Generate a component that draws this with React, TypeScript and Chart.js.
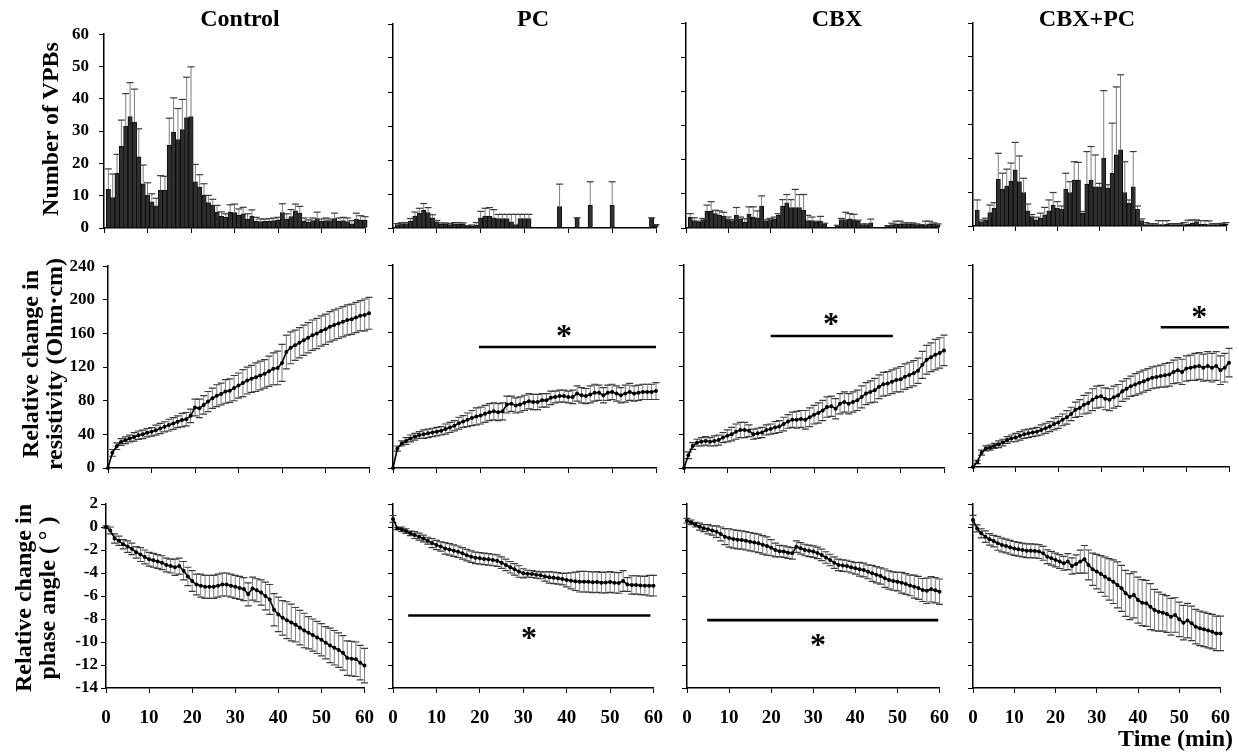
import React, { useEffect, useRef } from 'react';
import { Chart, registerables } from 'chart.js';
Chart.register(...registerables);

const FONT = '"Liberation Serif", "Times New Roman", Times, serif';

// ---------- categories ----------
const MINUTES = [0,1,2,3,4,5,6,7,8,9,10,11,12,13,14,15,16,17,18,19,20,21,22,23,24,25,26,27,28,29,30,31,32,33,34,35,36,37,38,39,40,41,42,43,44,45,46,47,48,49,50,51,52,53,54,55,56,57,58,59,60];
const BAR_MINUTES = [1,2,3,4,5,6,7,8,9,10,11,12,13,14,15,16,17,18,19,20,21,22,23,24,25,26,27,28,29,30,31,32,33,34,35,36,37,38,39,40,41,42,43,44,45,46,47,48,49,50,51,52,53,54,55,56,57,58,59,60];
const COLUMN_TITLES = ['Control', 'PC', 'CBX', 'CBX+PC'];

// ---------- Number of VPBs (mean, upper error) ----------
const CONTROL_VPB = [12,9.4,16.9,25.3,31.5,34.5,32.7,22,13.7,10.1,8.1,6.9,11.7,11.7,25.6,29.7,27.4,30.5,34.2,34.5,14.3,12.7,10.2,7.9,7.1,4.9,3.6,3.3,4.9,4.8,4.0,4.4,2.8,3.7,2.1,2.0,2.1,2.1,2.3,2.5,4.8,2.8,3.5,5.3,4.6,2.1,1.8,2.3,2.9,2.1,2.3,2.3,2.9,2.1,2.3,2.0,1.3,2.7,2.5,2.4];
const CONTROL_VPB_ERR = [6.3,7.3,5.9,8.1,10.1,10.5,10.3,8.7,5.8,3.9,2.5,2.3,4.5,4.3,8.4,10.6,9.6,9.3,12.5,15.4,5.4,3.8,3.5,2.2,1.8,2.1,1.4,1.1,2.3,2.6,1.9,2.0,1.6,1.9,1.2,0.8,0.7,0.8,0.8,0.8,2.7,1.6,2.2,2.1,2.1,1.0,0.7,0.8,2.0,0.7,0.8,0.5,1.7,1.0,1.0,1.1,1.0,1.9,1.3,1.1];
const PC_VPB = [1.0,1.3,1.3,2.0,3.5,4.3,5.2,4.5,3.0,1.8,1.2,1.2,1.0,1.2,1.2,1.2,0.5,0.6,0.8,3.0,3.5,3.4,3.0,2.8,2.8,2.8,1.8,1.0,2.8,2.8,2.8,0,0,0,0,0,0,6.3,0,0,0,3.0,0,0,6.7,0,0,0,0,6.7,0,0,0,0,0,0,0,0,3.0,1.0];
const PC_VPB_ERR = [0.3,0.3,0.3,0.8,1.2,1.5,2.0,1.5,0.9,0.4,0.3,0.3,0.3,0.4,0.4,0.3,0.2,0.3,0.8,1.9,2.3,2.6,2.4,1.2,1.2,1.2,2.2,3.0,1.2,1.2,1.2,0,0,0,0,0,0,6.6,0,0,0,0,0,0,6.9,0,0,0,0,6.9,0,0,0,0,0,0,0,0,0,0];
const CBX_VPB = [3.2,2.2,1.7,2.5,4.9,4.9,4.2,3.7,3.4,2.7,2.2,3.7,2.7,1.7,4.0,3.2,3.0,6.4,2.1,2.5,2.7,3.7,6.4,7.4,6.0,6.0,6.0,5.2,2.2,2.2,1.7,2.0,1.2,0,0,0.5,2.5,2.5,2.7,2.5,2.0,1.0,1.0,1.5,0,0,0,0.5,1.0,1.2,1.2,1.2,1.2,1.2,1.0,0.8,1.0,1.2,1.2,1.0];
const CBX_VPB_ERR = [1.0,0.8,0.3,0.3,1.8,2.8,1.0,1.3,1.2,0.5,0.3,2.3,0.5,1.0,2.2,3.0,2.0,3.0,0.3,0.3,0.5,0.5,1.9,2.4,2.3,5.3,3.8,4.6,1.5,1.0,0.3,1.4,0.2,0,0,0.3,0.3,2.1,1.5,1.5,0.3,0.2,0.2,1.1,0,0,0,0.2,0.4,0.8,0.8,0.3,0.3,0.3,0.2,0.2,1.0,0.8,0.3,0.2];
const CBXPC_VPB = [4.7,1.3,1.8,4.0,5.2,13.8,10.9,11.8,13.3,16.6,13.1,9.9,4.5,2.8,1.8,2.3,3.3,4.5,6.2,5.2,4.9,10.9,9.9,13.6,13.6,3.8,12.4,13.6,11.6,11.6,20.0,11.2,15.6,21.0,22.5,9.9,6.7,11.6,4.9,1.6,0.4,0.4,0.4,0.4,0.4,0.5,0.4,0.4,0.4,0.4,0.5,0.8,1.3,0.6,0.5,0.4,0.4,0.4,0.5,0.6];
const CBXPC_VPB_ERR = [3.0,0.5,0.5,2.2,1.7,7.7,4.7,5.0,5.3,8.1,7.6,4.2,2.0,0.6,0.8,1.5,2.2,3.2,3.7,2.0,1.0,4.7,3.2,5.4,5.2,0.5,9.6,9.9,9.4,1.0,20.0,1.0,14.8,20.1,22.2,9.1,1.0,10.4,1.0,0.5,0.6,0.3,0.3,1.2,1.2,1.1,0.3,0.3,0.3,0.6,1.2,1.0,0.5,1.0,1.1,1.1,0.3,0.3,0.3,0.4];

// ---------- Relative change in resistivity (mean, SE) ----------
const CONTROL_RES = [0,18,26,31,33,35,37,39,40,42,43,45,47,49,51,53,55,57,58,62,72,71,75,79,83,86,88,91,92,95,98,101,104,106,108,110,112,115,118,119,125,138,143,146,149,152,155,158,160,163,165,168,170,172,174,176,177,179,181,182,184];
const CONTROL_RES_ERR = [0,4,4,4,4,4,5,5,5,5,5,6,6,6,7,7,7,8,8,8,10,11,11,12,12,13,13,14,14,15,15,16,16,16,17,17,17,18,19,20,22,20,19,18,18,18,18,18,18,18,18,18,18,18,18,18,18,18,18,19,19];
const PC_RES = [0,23,29,32,35,37,39,40,41,42,43,44,46,48,50,53,55,57,59,61,62,64,66,67,66,67,75,76,74,75,77,79,78,78,80,80,83,84,85,85,84,84,88,86,85,87,89,89,86,89,90,88,86,88,90,88,89,90,90,90,91];
const PC_RES_ERR = [0,3,3,4,4,4,4,5,5,5,5,5,6,6,6,7,7,8,9,10,10,10,10,10,10,10,10,9,9,9,9,9,9,9,8,8,8,7,7,7,7,8,9,9,9,10,10,9,9,9,9,9,9,10,10,9,9,9,9,9,10];
const CBX_RES = [0,15,26,30,31,32,31,32,33,36,38,40,43,45,45,44,40,41,42,45,46,48,49,52,55,57,57,58,57,60,63,65,68,72,73,70,76,78,76,78,80,84,88,90,92,96,99,100,102,104,105,108,110,112,115,122,128,131,134,136,139];
const CBX_RES_ERR = [0,4,4,4,5,5,5,6,6,6,7,8,9,9,9,7,6,6,6,6,6,7,7,8,8,9,10,10,11,11,11,12,12,12,12,12,12,12,12,12,12,13,13,13,14,14,14,14,14,14,15,15,15,15,15,16,17,17,18,18,18];
const CBXPC_RES = [0,6,17,22,23,25,27,29,32,34,35,37,39,40,41,42,44,46,48,51,53,56,59,63,68,70,74,76,80,83,84,81,80,83,85,90,93,96,98,100,102,104,106,107,108,109,110,113,115,113,117,118,119,120,118,120,118,120,115,118,124];
const CBXPC_RES_ERR = [0,2,3,3,3,3,4,4,4,4,5,5,5,5,5,5,6,6,6,7,7,7,8,8,9,10,11,12,13,13,13,13,13,13,13,12,12,12,13,13,13,13,13,13,13,14,14,14,15,15,15,15,16,16,16,17,17,17,17,17,17];

// ---------- Relative change in phase angle (mean, SE) ----------
const CONTROL_PHASE = [0,-0.3,-1.0,-1.2,-1.5,-1.7,-1.9,-2.2,-2.4,-2.6,-2.8,-2.9,-3.0,-3.1,-3.3,-3.4,-3.5,-3.4,-3.8,-4.3,-4.7,-5.0,-5.1,-5.2,-5.2,-5.2,-5.1,-5.0,-5.0,-5.1,-5.2,-5.3,-5.4,-5.85,-5.35,-5.5,-5.7,-6.0,-6.3,-7.2,-7.6,-7.9,-8.1,-8.3,-8.5,-8.75,-9.0,-9.2,-9.4,-9.6,-9.8,-10.06,-10.3,-10.5,-10.7,-10.94,-11.4,-11.45,-11.5,-11.8,-12.05];
const CONTROL_PHASE_ERR = [0.1,0.3,0.4,0.4,0.4,0.5,0.5,0.5,0.6,0.6,0.6,0.6,0.6,0.6,0.6,0.6,0.7,0.7,0.8,0.8,0.9,0.9,1.0,1.0,1.0,1.0,1.0,1.0,1.0,1.0,1.0,1.0,1.0,1.0,1.0,1.0,1.1,1.2,1.3,1.4,1.5,1.5,1.6,1.6,1.5,1.5,1.5,1.4,1.4,1.4,1.4,1.4,1.5,1.5,1.5,1.5,1.5,1.5,1.5,1.5,1.5];
const PC_PHASE = [0.7,-0.12,-0.2,-0.35,-0.55,-0.7,-0.84,-1.0,-1.19,-1.4,-1.57,-1.7,-1.86,-1.95,-2.06,-2.15,-2.29,-2.45,-2.58,-2.68,-2.72,-2.78,-2.81,-2.87,-2.93,-3.1,-3.3,-3.5,-3.68,-3.87,-4.03,-4.06,-4.09,-4.15,-4.2,-4.3,-4.38,-4.42,-4.46,-4.53,-4.61,-4.68,-4.72,-4.75,-4.75,-4.77,-4.8,-4.78,-4.84,-4.82,-4.78,-4.84,-4.86,-4.7,-5.0,-5.04,-5.04,-5.08,-5.1,-5.1,-5.1];
const PC_PHASE_ERR = [0.3,0.1,0.2,0.2,0.2,0.3,0.3,0.3,0.3,0.4,0.4,0.4,0.5,0.5,0.5,0.5,0.5,0.5,0.5,0.5,0.5,0.5,0.5,0.5,0.5,0.5,0.5,0.5,0.5,0.5,0.4,0.3,0.3,0.3,0.3,0.4,0.5,0.5,0.5,0.5,0.6,0.7,0.8,0.9,0.9,0.9,0.9,0.9,0.9,0.9,0.9,0.9,0.9,0.9,0.6,0.8,0.8,0.8,0.8,0.9,0.9];
const CBX_PHASE = [0.55,0.41,0.2,0.03,-0.1,-0.2,-0.3,-0.41,-0.6,-0.84,-0.95,-1.04,-1.1,-1.13,-1.2,-1.28,-1.35,-1.42,-1.55,-1.65,-1.8,-2.0,-2.1,-2.14,-2.23,-2.29,-1.71,-1.85,-2.0,-2.07,-2.14,-2.25,-2.43,-2.65,-2.87,-3.1,-3.3,-3.35,-3.39,-3.5,-3.59,-3.68,-3.74,-3.9,-4.03,-4.15,-4.26,-4.45,-4.61,-4.7,-4.75,-4.85,-4.96,-5.08,-5.19,-5.3,-5.48,-5.55,-5.42,-5.5,-5.62];
const CBX_PHASE_ERR = [0.2,0.2,0.2,0.3,0.3,0.4,0.4,0.5,0.6,0.7,0.8,0.8,0.8,0.8,0.8,0.8,0.8,0.8,0.8,0.8,0.7,0.6,0.5,0.5,0.5,0.5,0.5,0.5,0.5,0.5,0.5,0.5,0.5,0.5,0.5,0.5,0.5,0.5,0.5,0.5,0.5,0.6,0.6,0.6,0.7,0.7,0.7,0.8,0.8,0.8,0.8,0.9,0.9,0.9,1.0,1.0,1.0,1.1,1.1,1.1,1.1];
const CBXPC_PHASE = [0.61,-0.12,-0.55,-0.84,-1.07,-1.22,-1.42,-1.57,-1.65,-1.77,-1.86,-1.94,-2.0,-2.06,-2.06,-2.09,-2.14,-2.29,-2.58,-2.72,-2.87,-3.01,-3.16,-3.01,-3.39,-3.22,-3.01,-2.81,-3.3,-3.68,-3.88,-4.09,-4.32,-4.55,-4.75,-5.04,-5.33,-5.77,-6.06,-5.91,-6.35,-6.58,-6.64,-6.93,-7.22,-7.36,-7.45,-7.57,-7.8,-7.65,-8.03,-8.32,-8.14,-8.38,-8.67,-8.81,-8.9,-9.01,-9.1,-9.25,-9.25];
const CBXPC_PHASE_ERR = [0.4,0.3,0.4,0.5,0.5,0.5,0.6,0.6,0.6,0.6,0.6,0.6,0.6,0.6,0.6,0.6,0.6,0.6,0.6,0.6,0.6,0.6,0.6,0.7,0.7,0.8,1.0,1.2,1.3,1.4,1.5,1.6,1.7,1.8,1.9,2.0,2.0,2.0,2.0,2.0,2.0,2.0,2.0,2.0,1.8,1.7,1.6,1.6,1.6,1.5,1.5,1.5,1.5,1.5,1.5,1.5,1.5,1.5,1.5,1.5,1.5];

// ---------- significance markers: [fromMin, toMin, lineValue, starMin, starValue] ----------
const PC_RES_SIG = [19.6, 60, 143, 39, 162];
const CBX_RES_SIG = [20, 48.2, 156, 33.9, 176];
const CBXPC_RES_SIG = [44, 60, 166, 53, 184];
const PC_PHASE_SIG = [3.5, 59.3, -7.7, 31.3, -9.25];
const CBX_PHASE_SIG = [4.8, 59.7, -8.1, 31.1, -9.8];

// ---------- axis ranges per row: [min, max, step] ----------
const VPB_RANGE = [0, 60, 10];
const RES_RANGE = [0, 240, 40];
const PHASE_RANGE = [-14, 2, 2];

// ---------- layout (plot-area rectangles: left, right, top, bottom) ----------
const RECTS = [
  [[104, 365, 30, 228], [393, 656, 24, 228], [686, 938, 23, 228], [973, 1226, 23, 226]],
  [[108, 369, 264, 468], [393, 656, 265, 468], [684, 944, 265, 468], [973, 1229, 265, 467]],
  [[106, 370, 504, 688], [393, 659, 504, 688], [687, 945, 504, 688], [973, 1226, 504, 688]],
];
const PL = 60, PT = 16, PR = 18, PB = 44;

type Panel = {
  row: number; col: number; kind: 'bar' | 'line';
  values: number[]; errs: number[]; range: number[]; sig?: number[];
};

const PANELS: Panel[] = [
  { row: 0, col: 0, kind: 'bar', values: CONTROL_VPB, errs: CONTROL_VPB_ERR, range: VPB_RANGE },
  { row: 0, col: 1, kind: 'bar', values: PC_VPB, errs: PC_VPB_ERR, range: VPB_RANGE },
  { row: 0, col: 2, kind: 'bar', values: CBX_VPB, errs: CBX_VPB_ERR, range: VPB_RANGE },
  { row: 0, col: 3, kind: 'bar', values: CBXPC_VPB, errs: CBXPC_VPB_ERR, range: VPB_RANGE },
  { row: 1, col: 0, kind: 'line', values: CONTROL_RES, errs: CONTROL_RES_ERR, range: RES_RANGE },
  { row: 1, col: 1, kind: 'line', values: PC_RES, errs: PC_RES_ERR, range: RES_RANGE, sig: PC_RES_SIG },
  { row: 1, col: 2, kind: 'line', values: CBX_RES, errs: CBX_RES_ERR, range: RES_RANGE, sig: CBX_RES_SIG },
  { row: 1, col: 3, kind: 'line', values: CBXPC_RES, errs: CBXPC_RES_ERR, range: RES_RANGE, sig: CBXPC_RES_SIG },
  { row: 2, col: 0, kind: 'line', values: CONTROL_PHASE, errs: CONTROL_PHASE_ERR, range: PHASE_RANGE },
  { row: 2, col: 1, kind: 'line', values: PC_PHASE, errs: PC_PHASE_ERR, range: PHASE_RANGE, sig: PC_PHASE_SIG },
  { row: 2, col: 2, kind: 'line', values: CBX_PHASE, errs: CBX_PHASE_ERR, range: PHASE_RANGE, sig: CBX_PHASE_SIG },
  { row: 2, col: 3, kind: 'line', values: CBXPC_PHASE, errs: CBXPC_PHASE_ERR, range: PHASE_RANGE },
];

const Y_TICK_FONT = [17, 17, 17];
const Y_TICK_PAD = [10, 8, 3];

function overlayPlugin(p: Panel) {
  const drawErrors = (chart: any) => {
    const ctx = chart.ctx;
    const meta = chart.getDatasetMeta(0);
    const ys = chart.scales.y;
    const cap = 3.5;
    ctx.save();
    meta.data.forEach((el: any, i: number) => {
      const v = p.values[i];
      const e = p.errs[i];
      if (p.kind === 'bar' && !(v > 0)) return;
      if (p.kind === 'line' && !(e > 0)) return;
      const x = el.x;
      const top = ys.getPixelForValue(v + e);
      const bot = p.kind === 'bar' ? el.y : ys.getPixelForValue(v - e);
      ctx.strokeStyle = '#7d7d7d';
      ctx.lineWidth = 1;
      ctx.beginPath();
      ctx.moveTo(x, top);
      ctx.lineTo(x, bot);
      ctx.stroke();
      ctx.strokeStyle = '#3a3a3a';
      ctx.lineWidth = 1.2;
      ctx.beginPath();
      ctx.moveTo(x - cap, top);
      ctx.lineTo(x + cap, top);
      if (p.kind === 'line') {
        ctx.moveTo(x - cap, bot);
        ctx.lineTo(x + cap, bot);
      }
      ctx.stroke();
    });
    ctx.restore();
  };
  const drawSig = (chart: any) => {
    if (!p.sig) return;
    const ctx = chart.ctx;
    const xs = chart.scales.x;
    const ys = chart.scales.y;
    const [x0, x1, yv, sx, sy] = p.sig;
    ctx.save();
    ctx.strokeStyle = '#000';
    ctx.lineWidth = 2.6;
    ctx.beginPath();
    ctx.moveTo(xs.getPixelForValue(x0), ys.getPixelForValue(yv));
    ctx.lineTo(xs.getPixelForValue(x1), ys.getPixelForValue(yv));
    ctx.stroke();
    ctx.font = `bold 32px ${FONT}`;
    ctx.fillStyle = '#000';
    ctx.textAlign = 'center';
    ctx.textBaseline = 'alphabetic';
    const m = ctx.measureText('*');
    const cy = ys.getPixelForValue(sy);
    const base = cy + (m.actualBoundingBoxAscent - m.actualBoundingBoxDescent) / 2;
    ctx.fillText('*', xs.getPixelForValue(sx), base);
    ctx.restore();
  };
  return {
    id: 'overlay' + p.row + p.col,
    beforeDatasetsDraw(chart: any) {
      if (p.kind === 'line') drawErrors(chart);
    },
    afterDatasetsDraw(chart: any) {
      if (p.kind === 'bar') drawErrors(chart);
      drawSig(chart);
    },
  };
}

function buildChart(canvas: HTMLCanvasElement, p: Panel) {
  const isBar = p.kind === 'bar';
  const xsrc = isBar ? BAR_MINUTES : MINUTES;
  const data = xsrc.map((m, i) => ({ x: m, y: p.values[i] }));
  const axisCommon = {
    grid: { display: true, drawOnChartArea: false, drawTicks: true, tickLength: 5, color: '#000', lineWidth: 1, offset: false },
    border: { display: true, color: '#000', width: 1.5 },
  };
  const dataset: any = isBar
    ? { type: 'bar', data, backgroundColor: '#2e2e2e', borderColor: '#000', borderWidth: 0.8, barPercentage: 1, categoryPercentage: 1, clip: false }
    : { type: 'line', data, borderColor: '#000', borderWidth: 1.6, pointRadius: 2, pointBackgroundColor: '#000', pointBorderColor: '#000', pointBorderWidth: 0, tension: 0, clip: false };
  return new Chart(canvas, {
    type: isBar ? 'bar' : 'line',
    data: { datasets: [dataset] },
    options: {
      animation: false,
      responsive: false,
      maintainAspectRatio: false,
      events: [],
      layout: { autoPadding: false, padding: { left: 0, top: PT, right: PR, bottom: 0 } },
      plugins: { legend: { display: false }, tooltip: { enabled: false }, title: { display: false } },
      scales: {
        x: {
          type: 'linear', min: 0, max: 60, offset: false,
          afterFit: (s: any) => { s.height = PB; },
          ticks: {
            stepSize: 10, display: p.row === 2, autoSkip: false, maxRotation: 0,
            font: { family: FONT, size: 19, weight: 'bold' }, color: '#000', padding: 14,
          },
          ...axisCommon,
        },
        y: {
          type: 'linear', min: p.range[0], max: p.range[1],
          afterFit: (s: any) => { s.width = PL; },
          ticks: {
            stepSize: p.range[2], display: p.col === 0, autoSkip: false,
            font: { family: FONT, size: Y_TICK_FONT[p.row], weight: 'bold' }, color: '#000', padding: Y_TICK_PAD[p.row],
          },
          ...axisCommon,
        },
      },
    } as any,
    plugins: [overlayPlugin(p)],
  });
}

const titleStyle: React.CSSProperties = {
  position: 'absolute', fontFamily: FONT, fontWeight: 'bold', color: '#000', whiteSpace: 'nowrap',
  transform: 'translate(-50%, -50%)', lineHeight: 1,
};

function RotTitle({ x, y, lines }: { x: number; y: number; lines: string[] }) {
  return (
    <div style={{
      position: 'absolute', left: x, top: y, fontFamily: FONT, fontWeight: 'bold', fontSize: 24,
      lineHeight: '24px', color: '#000', whiteSpace: 'nowrap', textAlign: 'center',
      transform: 'translate(-50%, -50%) rotate(-90deg)',
    }}>
      {lines.map((l, i) => <div key={i}>{l}</div>)}
    </div>
  );
}

const COL_TITLE_X = [240, 533, 837, 1087];

export default function App() {
  const refs = useRef<(HTMLCanvasElement | null)[]>([]);
  useEffect(() => {
    const charts = PANELS.map((p, i) => buildChart(refs.current[i] as HTMLCanvasElement, p));
    return () => charts.forEach((c) => c.destroy());
  }, []);
  return (
    <div style={{ position: 'absolute', left: 0, top: 0, width: 1239, height: 752, background: '#fff', overflow: 'hidden' }}>
      {PANELS.map((p, i) => {
        const [l, r, t, b] = RECTS[p.row][p.col];
        const w = r - l + PL + PR;
        const h = b - t + PT + PB;
        return (
          <canvas key={i} ref={(el) => { refs.current[i] = el; }} width={w} height={h}
            style={{ position: 'absolute', left: l - PL, top: t - PT, width: w, height: h }} />
        );
      })}
      {COLUMN_TITLES.map((t, i) => (
        <div key={t} style={{ ...titleStyle, left: COL_TITLE_X[i], top: 18, fontSize: 24 }}>{t}</div>
      ))}
      <RotTitle x={50} y={129} lines={['Number of VPBs']} />
      <RotTitle x={42} y={364} lines={['Relative change in', 'resistivity (Ohm·cm)']} />
      <RotTitle x={35} y={598} lines={['Relative change in', 'phase angle ( ° )']} />
      <div style={{ position: 'absolute', right: 1239 - 1233, top: 738, transform: 'translateY(-50%)', fontFamily: FONT, fontWeight: 'bold', fontSize: 24, lineHeight: 1, whiteSpace: 'nowrap' }}>
        Time (min)
      </div>
    </div>
  );
}
